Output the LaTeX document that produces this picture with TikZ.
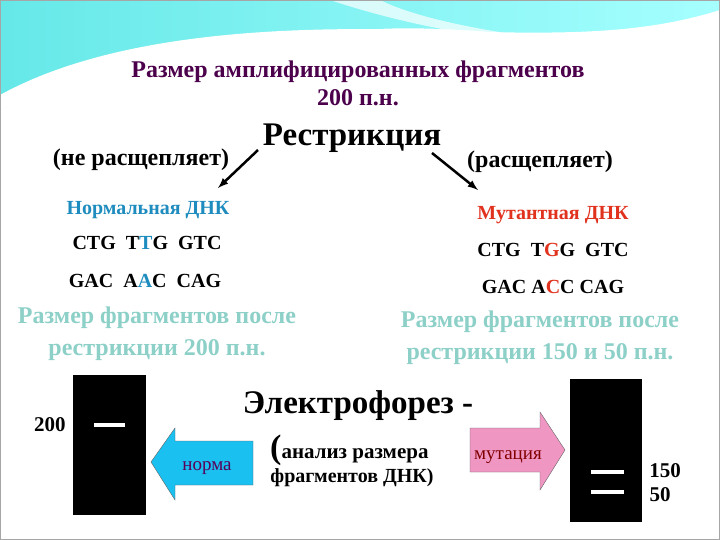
\documentclass[tikz,border=0pt]{standalone}
\usepackage{fontspec}
\setmainfont{Liberation Serif}
\begin{document}
\begin{tikzpicture}[x=1pt,y=-1pt,
  t/.style={font=\bfseries\fontsize{#1}{#1}\selectfont,inner sep=0pt},
  t/.default=20,
  arr/.style={-latex,line width=2.5pt},
  gel/.style={fill=black},
  band/.style={draw=white,line width=3.5pt}]
\useasboundingbox (0,0) rectangle (720,540);
\fill[white] (0,0) rectangle (720,540);
% top decoration
\shade[left color=cyan!70!teal!60, right color=cyan!35] (0,0) -- (720,0) -- (720,20) .. controls (600,60) and (500,20) .. (360,30) .. controls (200,40) and (80,60) .. (0,110) -- cycle;
\fill[white] (0,95) .. controls (100,40) and (250,25) .. (420,30) .. controls (560,35) and (640,35) .. (720,10) -- (720,40) .. controls (620,70) and (520,45) .. (380,42) .. controls (220,40) and (100,60) .. (0,110) -- cycle;
\fill[white,opacity=0.7] (330,0) .. controls (420,30) and (520,45) .. (600,45) .. controls (500,35) and (420,20) .. (380,0) -- cycle;
\draw[gray!70,line width=1pt] (0.5,0.5) rectangle (719.5,539.5);
% title
\node[t=24,text=violet!60!black] (title1) at (358,72) {Размер амплифицированных фрагментов};
\node[t=24,text=violet!60!black] (title2) at (358,98) {200 п.н.};
\node[t=33] (restr) at (352,138) {Рестрикция};
\node[t=24] (nerasc) at (141,160) {(не расщепляет)};
\node[t=24] (rasc) at (540,162) {(расщепляет)};
\coordinate (a1s) at (258,150); \coordinate (a1e) at (218,188);
\coordinate (a2s) at (432,153); \coordinate (a2e) at (478,190);
\draw[arr] (a1s) -- (a1e);
\draw[arr] (a2s) -- (a2e);
\node[t=20,text={rgb,255:red,30;green,140;blue,190}] (norm) at (148,210) {Нормальная ДНК};
\node[t=20,text={rgb,255:red,225;green,50;blue,30}] (mut) at (553,215) {Мутантная ДНК};
\node[t=20] (n1) at (147,243) {CTG\ \ T\textcolor[RGB]{30,140,190}{T}G\ \ GTC};
\node[t=20] (n2) at (145,281) {GAC\ \ A\textcolor[RGB]{30,140,190}{A}C\ \ CAG};
\node[t=20] (m1) at (553,250) {CTG\ \ T\textcolor[RGB]{225,50,30}{G}G\ \ GTC};
\node[t=20] (m2) at (553,287) {GAC A\textcolor[RGB]{225,50,30}{C}C CAG};
\node[t=24,text={rgb,255:red,140;green,208;blue,200},align=center,font=\bfseries\fontsize{24}{32}\selectfont] (lsz) at (157,334) {Размер фрагментов после\\рестрикции 200 п.н.};
\node[t=24,text={rgb,255:red,140;green,208;blue,200},align=center,font=\bfseries\fontsize{24}{32}\selectfont] (rsz) at (540,338) {Размер фрагментов после\\рестрикции 150 и 50 п.н.};
% gels
\fill[gel] (73,375) rectangle (146,515);
\draw[band] (94,425) -- (125,425);
\node[t=21] (l200) at (50,425) {200};
\fill[gel] (570,379) rectangle (642,522);
\draw[band] (591,472) -- (624,472);
\draw[band] (591,492) -- (624,492);
\node[t=21] (l150) at (665,471) {150};
\node[t=21] (l50) at (660,495) {50};
% center text
\node[t=33] (el) at (358,406) {Электрофорез -};
\node[t=21,anchor=west] (an) at (270,450) {{\fontsize{34}{34}\selectfont(}анализ размера};
\node[t=20] (fr) at (352,478) {фрагментов ДНК)};
% arrows
\draw[fill={rgb,255:red,25;green,192;blue,240},draw=black!60] (253,441) -- (175,441) -- (175,428) -- (151,462) -- (175,500) -- (175,485) -- (253,485) -- cycle;
\node[font=\fontsize{19}{19}\selectfont,text=violet!70!black,inner sep=0pt] (norma) at (207,468) {норма};
\draw[fill={rgb,255:red,240;green,150;blue,195},draw=black!60] (470,428) -- (540,428) -- (540,412) -- (565,450) -- (540,490) -- (540,472) -- (470,472) -- cycle;
\node[font=\fontsize{19}{19}\selectfont,text=red!50!black,inner sep=0pt] (mutac) at (508,457) {мутация};
\end{tikzpicture}
\end{document}
